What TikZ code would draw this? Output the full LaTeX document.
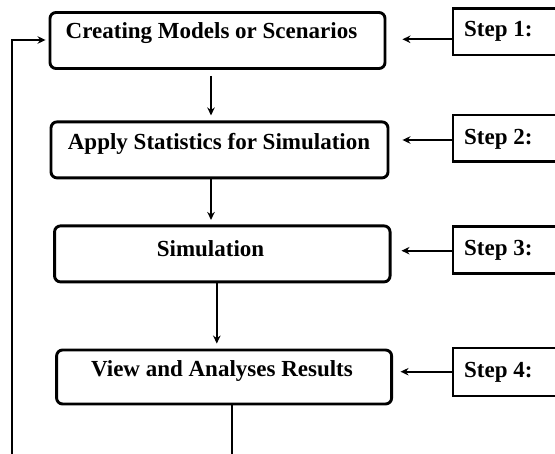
\documentclass[tikz,border=0pt]{standalone}
\usepackage{fontspec}
\setmainfont{Liberation Serif}
\usetikzlibrary{arrows.meta}
\begin{document}
\begin{tikzpicture}[x=1pt,y=-1pt,
  box/.style={draw,line width=2.9pt,rounded corners=6pt,minimum width=335pt,minimum height=56pt,inner sep=0pt},
  stepbox/.style={draw,line width=2.6pt,minimum width=125pt,minimum height=46.7pt,inner sep=0pt,anchor=west},
  lbl/.style={font=\fontsize{23}{27}\selectfont\bfseries,inner sep=0pt},
  arr/.style={line width=2.3pt,-{Stealth[length=8pt,width=7.5pt]}}]
\useasboundingbox (0,0) rectangle (555,454);
\clip (0,0) rectangle (555,454);
% main boxes
\node[box] (b1) at (217.5,40.5) {};
\node[box,minimum width=337pt] (b2) at (219.5,149.9) {};
\node[box,minimum width=335.5pt] (b3) at (222.3,253.9) {};
\node[box,minimum height=54pt] (b4) at (224.1,377) {};
\node[lbl] (t1) at (211.5,33) {Creating Models or Scenarios};
\node[lbl] (t2) at (219,143.5) {Apply Statistics for Simulation};
\node[lbl] (t3) at (210.5,248.8) {Simulation};
\node[lbl] (t4) at (222,370.6) {View and Analyses Results};
% step boxes
\node[stepbox] (s1) at (451.7,31.7) {};
\node[stepbox] (s2) at (451.7,138.4) {};
\node[stepbox] (s3) at (451.7,250) {};
\node[stepbox,minimum height=48pt] (s4) at (451.7,372) {};
\node[lbl,anchor=west] (u1) at (464,31.7) {Step 1:};
\node[lbl,anchor=west] (u2) at (464,139.3) {Step 2:};
\node[lbl,anchor=west] (u3) at (464,250.7) {Step 3:};
\node[lbl,anchor=west] (u4) at (464,372.7) {Step 4:};
% step arrows
\draw[arr] (s1.west |- 0,39.3) -- ([xshift=16pt]b1.east |- 0,39.3);
\draw[arr] (s2.west |- 0,140) -- ([xshift=13pt]b2.east |- 0,140);
\draw[arr] (s3.west |- 0,250.7) -- ([xshift=10pt]b3.east |- 0,250.7);
\draw[arr] (s4.west |- 0,371.7) -- ([xshift=7.5pt]b4.east |- 0,371.7);
% down arrows
\draw[arr,shorten <=6pt,shorten >=5pt] ([xshift=-6.5pt]b1.south) -- ([xshift=-6.5pt]b1.south |- b2.north);
\draw[arr,shorten >=4.5pt] ([xshift=-8.5pt]b2.south) -- ([xshift=-8.5pt]b2.south |- b3.north);
\draw[arr,shorten >=5pt] ([xshift=-5.5pt]b3.south) -- ([xshift=-5.5pt]b3.south |- b4.north);
% feedback loop
\coordinate (lp) at (11.7,456);
\draw[arr,shorten >=3pt] ([xshift=7.6pt]b4.south) -- ([xshift=7.6pt]b4.south |- lp) -- (lp) -- (lp |- 0,40) -- (b1.west |- 0,40);
\end{tikzpicture}
\end{document}
